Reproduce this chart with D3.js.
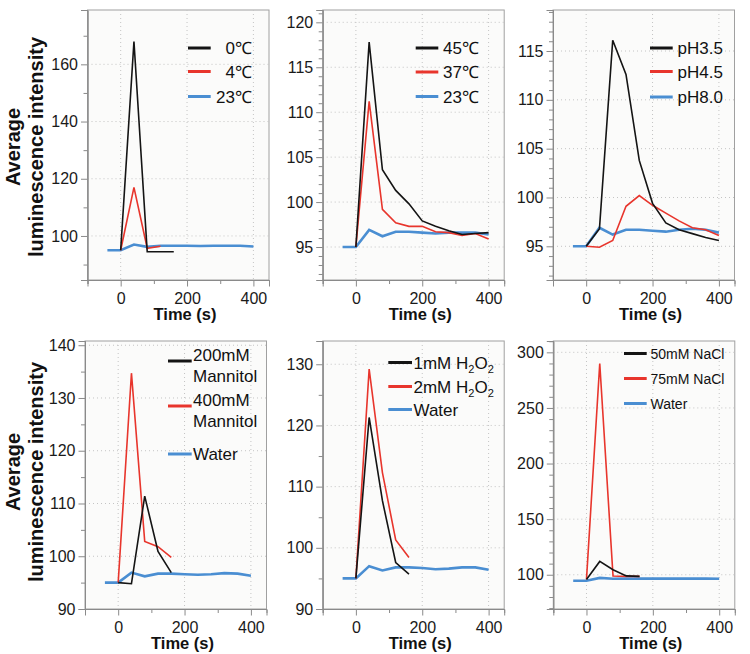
<!DOCTYPE html>
<html>
<head>
<meta charset="utf-8">
<script src="https://cdn.jsdelivr.net/npm/d3@7"></script>
<style>
  html, body { margin: 0; padding: 0; background: #ffffff; }
  svg { display: block; font-family: "Liberation Sans", Arial, Helvetica, sans-serif; }
</style>
</head>
<body>
<svg id="chart" width="750" height="654"></svg>
<script>
// ---------------- DATA ----------------
const times = [-40, 0, 40, 80, 120, 160, 200, 240, 280, 320, 360, 400];
const xTickLabels = [0, 200, 400];
const xMinorTicks = [-100, 100, 300];

// Panel A: cold
const legendA = ["0\u2103", "4\u2103", "23\u2103"];
const a_0C  = [null, 95, 168, 94.5, 94.5, 94.5, null, null, null, null, null, null];
const a_4C  = [null, 95, 117, 95.7, 96.4, null, null, null, null, null, null, null];
const a_23C = [95, 95, 97.0, 96.2, 96.6, 96.6, 96.6, 96.5, 96.6, 96.6, 96.6, 96.3];

// Panel B: heat
const legendB = ["45\u2103", "37\u2103", "23\u2103"];
const b_45C = [null, 95, 117.8, 103.6, 101.3, 99.8, 97.9, 97.3, 96.8, 96.4, 96.5, 96.6];
const b_37C = [null, 95, 111.2, 99.2, 97.7, 97.3, 97.3, 96.7, 96.6, 96.3, 96.5, 95.9];
const b_23C = [95, 95, 96.9, 96.2, 96.7, 96.7, 96.6, 96.5, 96.6, 96.6, 96.6, 96.4];

// Panel C: pH
const legendC = ["pH3.5", "pH4.5", "pH8.0"];
const c_pH35 = [null, 95, 96.8, 116.1, 112.6, 103.8, 99.4, 97.4, 96.7, 96.3, 95.9, 95.6];
const c_pH45 = [null, 95, 94.9, 95.6, 99.1, 100.2, 99.2, 98.4, 97.6, 96.9, 96.7, 96.1];
const c_pH80 = [95, 95, 96.9, 96.2, 96.7, 96.7, 96.6, 96.5, 96.7, 96.8, 96.7, 96.4];

// Panel D: mannitol
const legendD = [["200mM", "Mannitol"], ["400mM", "Mannitol"], ["Water"]];
const d_200 = [null, 95, 94.8, 111.4, 100.9, 96.9, null, null, null, null, null, null];
const d_400 = [null, 95, 134.7, 102.8, 101.8, 99.8, null, null, null, null, null, null];
const d_water = [95, 95, 96.9, 96.2, 96.7, 96.7, 96.6, 96.5, 96.6, 96.8, 96.7, 96.3];

// Panel E: H2O2
const legendE = [["1mM H", "2", "O", "2"], ["2mM H", "2", "O", "2"], ["Water"]];
const e_1mM = [null, 95, 121.3, 107.7, 97.6, 95.7, null, null, null, null, null, null];
const e_2mM = [null, 95, 129.2, 112.3, 101.3, 98.4, null, null, null, null, null, null];
const e_water = [95, 95, 97.0, 96.3, 96.8, 96.8, 96.7, 96.5, 96.6, 96.8, 96.8, 96.4];

// Panel F: NaCl
const legendF = ["50mM NaCl", "75mM NaCl", "Water"];
const f_50 = [null, 95.8, 112, 104.5, 99, 98.5, null, null, null, null, null, null];
const f_75 = [null, 95.8, 290, 98.8, 98.5, 98.5, null, null, null, null, null, null];
const f_water = [94.6, 94.6, 97.2, 96.4, 96.5, 96.5, 96.5, 96.5, 96.5, 96.5, 96.5, 96.4];

// ---------------- STYLE / LAYOUT ----------------
const colors = ["#141414", "#e8352c", "#4a8ed2"];
const widths = [1.6, 1.6, 2.6];

const svg = d3.select("#chart");
const defs = svg.append("defs");
defs.append("filter").attr("id", "blur").append("feGaussianBlur").attr("stdDeviation", 0.7);

const panels = [
  { left: 87.5, top: 10, bottom: 280, yDom: [84.6, 179], yMajor: [100, 120, 140, 160], yMinorStep: 10,
    series: [a_0C, a_4C, a_23C], legend: legendA, leg: { x0: 188, x1: 210.7, tx: 252, anchor: "end", ys: [48, 71.5, 96.5], fs: 17 } },
  { left: 322.7, top: 10, bottom: 280, yDom: [91.33, 121.37], yMajor: [95, 100, 105, 110, 115, 120], yMinorStep: 1,
    series: [b_45C, b_37C, b_23C], legend: legendB, leg: { x0: 415.7, x1: 438.3, tx: 443, anchor: "start", ys: [48, 72, 96.5], fs: 17 } },
  { left: 553, top: 10, bottom: 280, yDom: [91.55, 119.2], yMajor: [95, 100, 105, 110, 115], yMinorStep: 1,
    series: [c_pH35, c_pH45, c_pH80], legend: legendC, leg: { x0: 650, x1: 672.7, tx: 677.5, anchor: "start", ys: [48, 71.5, 97], fs: 17 } },
  { left: 85, top: 341, bottom: 609, yDom: [90, 140.8], yMajor: [90, 100, 110, 120, 130, 140], yMinorStep: 5,
    series: [d_200, d_400, d_water], legend: legendD, leg: { x0: 168, x1: 191.7, tx: 193, anchor: "start", ys: [361, 406, 454], fs: 17, multi: true } },
  { left: 322.7, top: 341, bottom: 609, yDom: [90, 133.8], yMajor: [90, 100, 110, 120, 130], yMinorStep: 5,
    series: [e_1mM, e_2mM, e_water], legend: legendE, leg: { x0: 388.3, x1: 412, tx: 413.5, anchor: "start", ys: [362.5, 386.5, 409.5], fs: 17, sub: true } },
  { left: 553.3, top: 341, bottom: 609, yDom: [69.2, 310.2], yMajor: [100, 150, 200, 250, 300], yMinorStep: 10,
    series: [f_50, f_75, f_water], legend: legendF, leg: { x0: 624, x1: 646.7, tx: 650.5, anchor: "start", ys: [353.5, 378.5, 403.5], fs: 14 } }
];

const plotW = 181.5;
const xDom = [-100, 447];

panels.forEach((p, pi) => {
  const x = d3.scaleLinear().domain(xDom).range([p.left, p.left + plotW]);
  const y = d3.scaleLinear().domain(p.yDom).range([p.bottom, p.top]);
  const g = svg.append("g");

  // plot background / frame
  g.append("rect")
    .attr("x", p.left).attr("y", p.top)
    .attr("width", plotW).attr("height", p.bottom - p.top)
    .attr("fill", "#fbfbfa").attr("stroke", "#a0a0a0").attr("stroke-width", 1);

  // grid
  g.selectAll(".gx").data(xTickLabels).join("line")
    .attr("x1", d => x(d)).attr("x2", d => x(d))
    .attr("y1", p.top).attr("y2", p.bottom)
    .attr("stroke", "#c4c4c4").attr("stroke-width", 1).attr("stroke-dasharray", "1,3");
  g.selectAll(".gy").data(p.yMajor.filter(v => v > p.yDom[0] + 0.01)).join("line")
    .attr("x1", p.left).attr("x2", p.left + plotW)
    .attr("y1", d => y(d)).attr("y2", d => y(d))
    .attr("stroke", "#c4c4c4").attr("stroke-width", 1).attr("stroke-dasharray", "1,3");

  // y axis
  const yMinor = d3.range(Math.ceil(p.yDom[0] / p.yMinorStep) * p.yMinorStep, p.yDom[1], p.yMinorStep)
    .filter(v => !p.yMajor.some(m => Math.abs(m - v) < 1e-6));
  const yAxisMinor = d3.axisLeft(y).tickValues(yMinor).tickSize(4).tickFormat("");
  const yAxisMajor = d3.axisLeft(y).tickValues(p.yMajor).tickSize(6.5).tickPadding(3).tickFormat(d3.format("d"));
  const ga1 = g.append("g").attr("transform", `translate(${p.left},0)`).call(yAxisMinor);
  const ga2 = g.append("g").attr("transform", `translate(${p.left},0)`).call(yAxisMajor);
  [ga1, ga2].forEach(a => {
    a.select(".domain").attr("stroke", "#8a8a8a");
    a.selectAll(".tick line").attr("stroke", "#8a8a8a");
    a.selectAll(".tick text").attr("font-size", 16).attr("fill", "#1a1a1a")
      .attr("font-family", "'Liberation Sans', Arial, sans-serif");
  });

  // x axis
  const xAxisMinor = d3.axisBottom(x).tickValues(xMinorTicks).tickSize(4).tickFormat("");
  const xAxisMajor = d3.axisBottom(x).tickValues(xTickLabels).tickSize(6.5).tickPadding(6).tickFormat(d3.format("d"));
  const gx1 = g.append("g").attr("transform", `translate(0,${p.bottom})`).call(xAxisMinor);
  const gx2 = g.append("g").attr("transform", `translate(0,${p.bottom})`).call(xAxisMajor);
  [gx1, gx2].forEach(a => {
    a.select(".domain").attr("stroke", "#8a8a8a");
    a.selectAll(".tick line").attr("stroke", "#8a8a8a");
    a.selectAll(".tick text").attr("font-size", 16).attr("fill", "#1a1a1a")
      .attr("font-family", "'Liberation Sans', Arial, sans-serif");
  });

  // x label
  g.append("text")
    .attr("x", x(200) - 2).attr("y", p.bottom + 40)
    .attr("text-anchor", "middle").attr("font-size", 16.5).attr("font-weight", "bold")
    .attr("fill", "#111").text("Time (s)");

  // series lines
  const line = d3.line()
    .defined(d => d[1] != null)
    .x(d => x(d[0])).y(d => y(d[1]));
  const order = [2, 1, 0];
  order.forEach(si => {
    const vals = p.series[si];
    const pts = times.map((t, i) => [t, vals[i]]);
    g.append("path").datum(pts)
      .attr("d", line)
      .attr("fill", "none")
      .attr("stroke", colors[si]).attr("stroke-width", widths[si])
      .attr("stroke-linejoin", "miter");
  });

  // legend
  const L = p.leg;
  p.legend.forEach((lab, i) => {
    const ly = L.ys[i];
    g.append("line")
      .attr("x1", L.x0).attr("x2", L.x1).attr("y1", ly + 2.6).attr("y2", ly + 2.6)
      .attr("stroke", "#9a9a9a").attr("stroke-width", 3).attr("opacity", 0.75)
      .attr("filter", "url(#blur)");
    g.append("line")
      .attr("x1", L.x0).attr("x2", L.x1).attr("y1", ly).attr("y2", ly)
      .attr("stroke", colors[i]).attr("stroke-width", 3);
    if (L.multi) {
      const t = g.append("text").attr("font-size", L.fs).attr("fill", "#111").attr("text-anchor", "start");
      if (lab.length === 2) {
        t.append("tspan").attr("x", L.tx).attr("y", ly).text(lab[0]);
        t.append("tspan").attr("x", L.tx).attr("y", ly + 20.5).text(lab[1]);
      } else {
        t.attr("x", L.tx).attr("y", ly + 6).text(lab[0]);
      }
    } else if (L.sub && lab.length === 4) {
      const t = g.append("text").attr("x", L.tx).attr("y", ly + 6).attr("font-size", L.fs).attr("fill", "#111");
      t.append("tspan").text(lab[0]);
      t.append("tspan").attr("font-size", L.fs * 0.65).attr("dy", 4).text(lab[1]);
      t.append("tspan").attr("dy", -4).text(lab[2]);
      t.append("tspan").attr("font-size", L.fs * 0.65).attr("dy", 4).text(lab[3]);
    } else {
      const txt = Array.isArray(lab) ? lab[0] : lab;
      g.append("text").attr("x", L.tx).attr("y", ly + (L.fs > 15 ? 6 : 5))
        .attr("text-anchor", L.anchor).attr("font-size", L.fs).attr("fill", "#111").text(txt);
    }
  });
});

// y-axis titles
[{ cy: 147 }, { cy: 472 }].forEach(r => {
  svg.append("text")
    .attr("transform", `translate(20,${r.cy}) rotate(-90)`)
    .attr("text-anchor", "middle").attr("font-size", 20).attr("font-weight", "bold").attr("fill", "#111")
    .text("Average");
  svg.append("text")
    .attr("transform", `translate(43,${r.cy}) rotate(-90)`)
    .attr("text-anchor", "middle").attr("font-size", 20).attr("font-weight", "bold").attr("fill", "#111")
    .text("luminescence intensity");
});
</script>
</body>
</html>
